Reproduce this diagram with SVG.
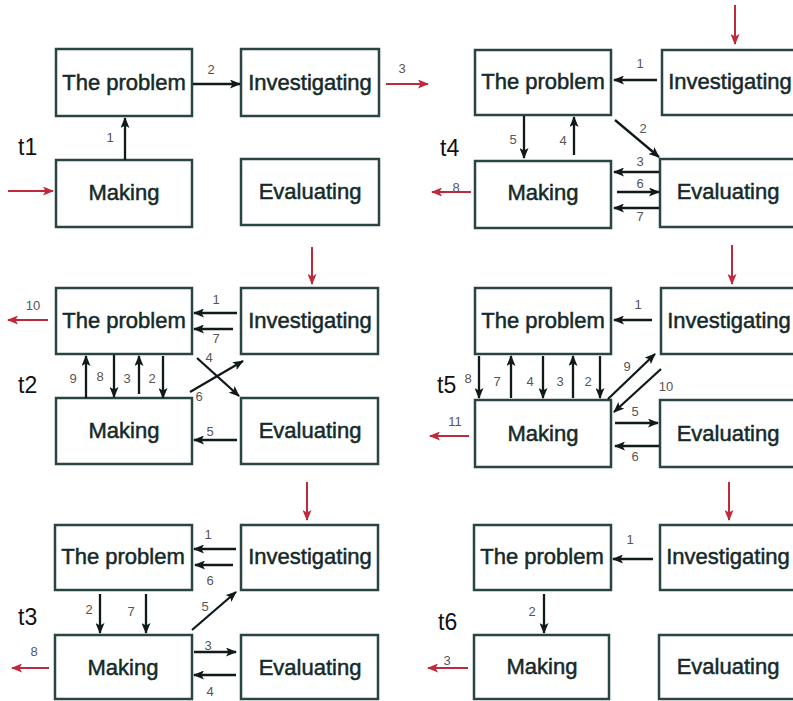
<svg xmlns="http://www.w3.org/2000/svg" width="793" height="701" viewBox="0 0 793 701">
<defs>
<marker id="ah" markerUnits="userSpaceOnUse" markerWidth="11" markerHeight="9" refX="10" refY="4.5" orient="auto"><path d="M0,0 L11,4.5 L0,9 L2.5,4.5 z" fill="#111a1a"/></marker>
<marker id="ahr" markerUnits="userSpaceOnUse" markerWidth="11" markerHeight="9" refX="10" refY="4.5" orient="auto"><path d="M0,0 L11,4.5 L0,9 L2.5,4.5 z" fill="#c0283c"/></marker>
</defs>
<style>
.box{fill:#fff;stroke:#2a4444;stroke-width:2.5}
.lbl{font-family:"Liberation Sans",Arial,sans-serif;font-size:22px;fill:#152a2a;stroke:#152a2a;stroke-width:0.5;text-anchor:middle}
.t{font-family:"Liberation Sans",Arial,sans-serif;font-size:23px;fill:#111}
.n{font-family:"Liberation Sans",Arial,sans-serif;font-size:13px;fill:#555;text-anchor:middle}
.a{stroke:#111a1a;stroke-width:2.3;fill:none;marker-end:url(#ah)}
.r{stroke:#c0283c;stroke-width:2;fill:none;marker-end:url(#ahr)}
</style>
<rect width="793" height="701" fill="#fff"/>

<!-- Panel t1 -->
<g id="t1-problem"><rect class="box" x="56" y="49" width="136" height="67"/><text class="lbl" x="124" y="90">The problem</text></g>
<g id="t1-investigating"><rect class="box" x="241" y="49" width="138" height="67"/><text class="lbl" x="310" y="90">Investigating</text></g>
<g id="t1-making"><rect class="box" x="56" y="160" width="136" height="67"/><text class="lbl" x="124" y="200">Making</text></g>
<g id="t1-evaluating"><rect class="box" x="241" y="159" width="138" height="66"/><text class="lbl" x="310" y="199">Evaluating</text></g>
<text class="t" x="18" y="155">t1</text>

<!-- Panel t4 -->
<g id="t4-problem"><rect class="box" x="475" y="50" width="136" height="65"/><text class="lbl" x="543" y="89">The problem</text></g>
<g id="t4-investigating"><rect class="box" x="662" y="50" width="140" height="65"/><text class="lbl" x="730" y="89">Investigating</text></g>
<g id="t4-making"><rect class="box" x="475" y="161" width="136" height="67"/><text class="lbl" x="543" y="200">Making</text></g>
<g id="t4-evaluating"><rect class="box" x="660" y="159" width="142" height="68"/><text class="lbl" x="728" y="199">Evaluating</text></g>
<text class="t" x="440" y="156">t4</text>

<!-- Panel t2 -->
<g id="t2-problem"><rect class="box" x="56" y="288" width="136" height="66"/><text class="lbl" x="124" y="328">The problem</text></g>
<g id="t2-investigating"><rect class="box" x="241" y="288" width="137" height="66"/><text class="lbl" x="310" y="328">Investigating</text></g>
<g id="t2-making"><rect class="box" x="56" y="398" width="136" height="66"/><text class="lbl" x="124" y="438">Making</text></g>
<g id="t2-evaluating"><rect class="box" x="241" y="398" width="137" height="66"/><text class="lbl" x="310" y="438">Evaluating</text></g>
<text class="t" x="18" y="393">t2</text>

<!-- Panel t5 -->
<g id="t5-problem"><rect class="box" x="475" y="288" width="136" height="66"/><text class="lbl" x="543" y="328">The problem</text></g>
<g id="t5-investigating"><rect class="box" x="661" y="288" width="141" height="66"/><text class="lbl" x="729" y="328">Investigating</text></g>
<g id="t5-making"><rect class="box" x="475" y="400" width="136" height="67"/><text class="lbl" x="543" y="441">Making</text></g>
<g id="t5-evaluating"><rect class="box" x="660" y="400" width="142" height="67"/><text class="lbl" x="728" y="441">Evaluating</text></g>
<text class="t" x="437" y="393">t5</text>

<!-- Panel t3 -->
<g id="t3-problem"><rect class="box" x="55" y="525" width="137" height="65"/><text class="lbl" x="123" y="564">The problem</text></g>
<g id="t3-investigating"><rect class="box" x="241" y="525" width="137" height="65"/><text class="lbl" x="310" y="564">Investigating</text></g>
<g id="t3-making"><rect class="box" x="55" y="635" width="137" height="64"/><text class="lbl" x="123" y="675">Making</text></g>
<g id="t3-evaluating"><rect class="box" x="241" y="635" width="137" height="64"/><text class="lbl" x="310" y="675">Evaluating</text></g>
<text class="t" x="18" y="625">t3</text>

<!-- Panel t6 -->
<g id="t6-problem"><rect class="box" x="474" y="525" width="137" height="65"/><text class="lbl" x="542" y="564">The problem</text></g>
<g id="t6-investigating"><rect class="box" x="660" y="525" width="142" height="65"/><text class="lbl" x="728" y="564">Investigating</text></g>
<g id="t6-making"><rect class="box" x="474" y="635" width="135" height="64"/><text class="lbl" x="542" y="674">Making</text></g>
<g id="t6-evaluating"><rect class="box" x="659" y="635" width="143" height="64"/><text class="lbl" x="728" y="674">Evaluating</text></g>
<text class="t" x="438" y="630">t6</text>

<g id="connectors">
<!-- t1 -->
<line class="r" x1="8" y1="191" x2="53" y2="191"/>
<line class="a" x1="125" y1="160" x2="125" y2="118"/><text class="n" x="110" y="142">1</text>
<line class="a" x1="193" y1="84" x2="240" y2="84"/><text class="n" x="211" y="74">2</text>
<line class="r" x1="386" y1="84" x2="428" y2="84"/><text class="n" x="402" y="73">3</text>

<!-- t4 -->
<line class="r" x1="735" y1="5" x2="735" y2="44"/>
<line class="a" x1="657" y1="80" x2="614" y2="80"/><text class="n" x="640" y="68">1</text>
<line class="a" x1="615" y1="120" x2="659" y2="157"/><text class="n" x="643" y="133">2</text>
<line class="a" x1="524" y1="116" x2="524" y2="158"/><text class="n" x="513" y="144">5</text>
<line class="a" x1="574" y1="155" x2="574" y2="117"/><text class="n" x="563" y="145">4</text>
<line class="a" x1="659" y1="172" x2="614" y2="172"/><text class="n" x="640" y="166">3</text>
<line class="a" x1="617" y1="192" x2="659" y2="192"/><text class="n" x="640" y="188">6</text>
<line class="a" x1="659" y1="208" x2="614" y2="208"/><text class="n" x="640" y="221">7</text>
<line class="r" x1="471" y1="192" x2="432" y2="192"/><text class="n" x="456" y="192">8</text>

<!-- t2 -->
<line class="r" x1="312" y1="247" x2="312" y2="284"/>
<line class="r" x1="48" y1="320" x2="8" y2="320"/><text class="n" x="33" y="310">10</text>
<line class="a" x1="237" y1="313" x2="194" y2="313"/><text class="n" x="216" y="304">1</text>
<line class="a" x1="233" y1="329" x2="194" y2="329"/><text class="n" x="216" y="343">7</text>
<line class="a" x1="86" y1="398" x2="86" y2="356"/><text class="n" x="73" y="383">9</text>
<line class="a" x1="114" y1="355" x2="114" y2="397"/><text class="n" x="100" y="381">8</text>
<line class="a" x1="139" y1="394" x2="139" y2="356"/><text class="n" x="127" y="383">3</text>
<line class="a" x1="163" y1="356" x2="163" y2="398"/><text class="n" x="152" y="383">2</text>
<line class="a" x1="197" y1="358" x2="239" y2="396"/><text class="n" x="209" y="362">4</text>
<line class="a" x1="190" y1="392" x2="243" y2="361"/><text class="n" x="199" y="401">6</text>
<line class="a" x1="237" y1="440" x2="194" y2="440"/><text class="n" x="210" y="436">5</text>

<!-- t5 -->
<line class="r" x1="732" y1="245" x2="732" y2="284"/>
<line class="a" x1="652" y1="320" x2="614" y2="320"/><text class="n" x="638" y="309">1</text>
<line class="a" x1="479" y1="356" x2="479" y2="398"/><text class="n" x="468" y="383">8</text>
<line class="a" x1="511" y1="398" x2="511" y2="356"/><text class="n" x="497" y="386">7</text>
<line class="a" x1="543" y1="356" x2="543" y2="398"/><text class="n" x="530" y="386">4</text>
<line class="a" x1="573" y1="398" x2="573" y2="356"/><text class="n" x="560" y="386">3</text>
<line class="a" x1="600" y1="356" x2="600" y2="398"/><text class="n" x="588" y="386">2</text>
<line class="a" x1="608" y1="399" x2="655" y2="354"/><text class="n" x="627" y="371">9</text>
<line class="a" x1="661" y1="369" x2="614" y2="412"/><text class="n" x="666" y="391">10</text>
<line class="a" x1="615" y1="423" x2="658" y2="423"/><text class="n" x="635" y="416">5</text>
<line class="a" x1="659" y1="446" x2="615" y2="446"/><text class="n" x="635" y="461">6</text>
<line class="r" x1="469" y1="436" x2="430" y2="436"/><text class="n" x="455" y="426">11</text>

<!-- t3 -->
<line class="r" x1="307" y1="482" x2="307" y2="520"/>
<line class="a" x1="236" y1="549" x2="194" y2="549"/><text class="n" x="208" y="539">1</text>
<line class="a" x1="233" y1="565" x2="195" y2="565"/><text class="n" x="210" y="585">6</text>
<line class="a" x1="100" y1="594" x2="100" y2="633"/><text class="n" x="89" y="614">2</text>
<line class="a" x1="146" y1="594" x2="146" y2="633"/><text class="n" x="131" y="616">7</text>
<line class="a" x1="192" y1="630" x2="236" y2="592"/><text class="n" x="205" y="611">5</text>
<line class="a" x1="194" y1="652" x2="236" y2="652"/><text class="n" x="208" y="650">3</text>
<line class="a" x1="236" y1="675" x2="194" y2="675"/><text class="n" x="210" y="696">4</text>
<line class="r" x1="49" y1="668" x2="12" y2="668"/><text class="n" x="34" y="656">8</text>

<!-- t6 -->
<line class="r" x1="729" y1="482" x2="729" y2="520"/>
<line class="a" x1="653" y1="559" x2="613" y2="559"/><text class="n" x="630" y="544">1</text>
<line class="a" x1="544" y1="594" x2="544" y2="633"/><text class="n" x="532" y="616">2</text>
<line class="r" x1="468" y1="668" x2="428" y2="668"/><text class="n" x="447" y="665">3</text>
</g>
</svg>
